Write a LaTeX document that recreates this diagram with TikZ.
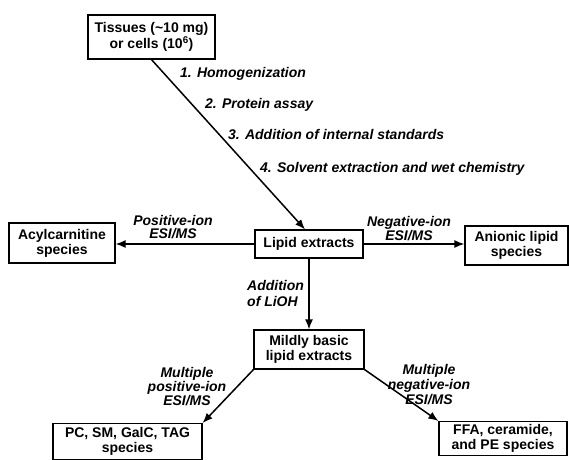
\documentclass[tikz,border=0pt]{standalone}
\usepackage{fontspec}
\setmainfont{Liberation Sans}
\usetikzlibrary{arrows.meta}
\begin{document}
\begin{tikzpicture}[x=1pt,y=-1pt,
 box/.style={draw,line width=1.2pt,font=\bfseries\fontsize{14}{15}\selectfont,align=center,inner sep=0pt},
 lab/.style={font=\bfseries\itshape\fontsize{14}{14}\selectfont,align=center,inner sep=0pt},
 arr/.style={line width=1.5pt,-{Latex[length=10pt,width=8pt]}}]
\useasboundingbox (0,0) rectangle (569,459);
\clip (0,0) rectangle (569,459);
\node[box,minimum width=127pt,minimum height=44pt] (tis) at (151.5,37) {Tissues (\textasciitilde10 mg)\\or cells (10\textsuperscript{6})};
\node[box,minimum width=108pt,minimum height=28pt] (lip) at (309,244) {Lipid extracts};
\node[box,minimum width=106pt,minimum height=40pt] (acy) at (62,243) {Acylcarnitine\\species};
\node[box,minimum width=103pt,minimum height=39pt] (ani) at (516.5,245.5) {Anionic lipid\\species};
\node[box,minimum width=110pt,minimum height=39pt] (mil) at (309,349.5) {Mildly basic\\lipid extracts};
\node[box,minimum width=149pt,anchor=north,inner ysep=4pt] (pc) at (127.5,423) {PC, SM, GalC, TAG\\species};
\node[box,minimum width=128pt,anchor=north,inner ysep=3pt] (ffa) at (503,421) {FFA, ceramide,\\and PE species};
\draw[arr] (tis.south) -- ([xshift=-4pt]lip.north);
\draw[arr] (lip.west) -- (lip.west -| acy.east);
\draw[arr] (lip.east) -- (lip.east -| ani.west);
\draw[arr] (lip.south) -- (mil.north);
\draw[arr] (mil.south west) -- (pc.north east);
\draw[arr] (mil.south east) -- (ffa.north west);
\node[lab,anchor=west] (s1) at (180,74) {1. Homogenization};
\node[lab,anchor=west] (s2) at (205,105) {2. Protein assay};
\node[lab,anchor=west] (s3) at (228,134) {3. Addition of internal standards};
\node[lab,anchor=west] (s4) at (260,169) {4. Solvent extraction and wet chemistry};
\node[lab,font=\bfseries\itshape\fontsize{14}{12.5}\selectfont] (pos) at (173,227) {Positive-ion\\ESI/MS};
\node[lab,font=\bfseries\itshape\fontsize{14}{13}\selectfont] (neg) at (409,228.5) {Negative-ion\\ESI/MS};
\node[lab,align=left,anchor=west,font=\bfseries\itshape\fontsize{14}{16}\selectfont] (lioh) at (247,293.5) {Addition\\of LiOH};
\node[lab] (mpos) at (187,387) {Multiple\\positive-ion\\ESI/MS};
\node[lab,font=\bfseries\itshape\fontsize{14}{15}\selectfont] (mneg) at (429,384.5) {Multiple\\negative-ion\\ESI/MS};
\end{tikzpicture}
\end{document}
